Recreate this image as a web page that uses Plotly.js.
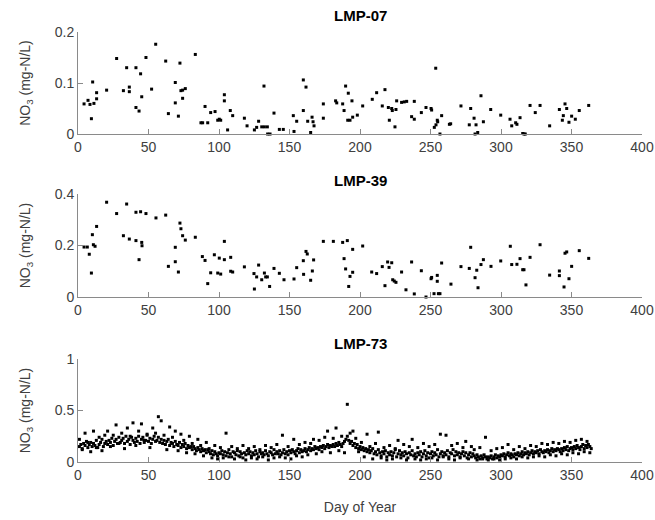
<!DOCTYPE html>
<html>
<head>
<meta charset="utf-8">
<script src="https://cdn.plot.ly/plotly-3.0.1.min.js"></script>
<style>html,body{margin:0;padding:0;background:#fff;}#chart{width:655px;height:520px;}</style>
</head>
<body>
<div id="chart"></div>
<script>
// ---- LMP-07 ----
const lmp07Day = [4.3,7.1,8.5,9.5,10.4,11.3,13.2,13.2,20.3,27.4,32.2,34.5,36.4,36.4,41.1,41.1,43.3,44.4,45.2,48.2,52.2,55.1,62.2,64.1,69.0,69.0,71.2,72.3,73.0,74.2,74.2,76.1,83.2,87.2,88.4,90.1,92.0,94.1,97.2,99.1,100.2,101.2,103.8,103.8,106.1,108.0,109.7,118.0,119.9,125.1,126.7,128.1,130.3,131.9,132.2,134.3,134.5,136.2,139.0,142.8,145.6,152.7,153.2,155.1,159.8,159.8,161.7,162.9,165.0,166.0,166.7,167.4,174.0,174.0,182.7,183.5,187.7,188.7,189.8,191.7,191.3,192.9,194.3,194.8,198.1,
201.9,208.7,211.8,215.8,217.7,220.1,220.8,222.5,222.9,224.8,225.5,226.0,229.5,231.4,233.1,236.6,238.5,238.5,243.5,246.8,250.4,250.8,253.7,252.7,253.9,254.8,255.1,256.7,257.9,263.4,264.3,271.6,277.5,278.5,280.9,282.3,281.6,283.5,285.8,287.5,292.7,299.8,306.4,307.6,310.4,311.3,313.5,315.4,316.3,317.2,320.6,324.3,327.7,334.5,341.4,344.2,345.4,346.6,343.5,348.2,350.1,352.7,355.5,362.2];
const lmp07Val = [0.059,0.066,0.058,0.030,0.102,0.060,0.081,0.069,0.086,0.148,0.085,0.130,0.092,0.083,0.130,0.052,0.045,0.118,0.073,0.150,0.088,0.176,0.143,0.040,0.101,0.061,0.035,0.139,0.085,0.070,0.086,0.089,0.156,0.022,0.022,0.054,0.022,0.042,0.044,0.027,0.029,0.027,0.077,0.065,0.008,0.046,0.036,0.031,0.016,0.008,0.013,0.025,0.014,0.094,0.014,0.014,0.0,0.0,0.041,0.009,0.009,0.036,0.005,0.025,0.106,0.046,0.092,0.025,0.003,0.033,0.024,0.016,0.059,0.031,0.065,0.061,0.059,0.046,0.094,0.080,0.027,0.027,0.065,0.033,0.037,
0.055,0.068,0.081,0.055,0.087,0.052,0.027,0.050,0.046,0.014,0.048,0.065,0.062,0.063,0.064,0.034,0.064,0.029,0.042,0.052,0.050,0.047,0.129,0.013,0.018,0.027,0.024,0.0,0.036,0.019,0.020,0.055,0.018,0.050,0.031,0.018,0.0,0.003,0.075,0.024,0.048,0.037,0.029,0.016,0.022,0.019,0.032,0.001,0.0,0.0,0.056,0.042,0.056,0.016,0.048,0.036,0.059,0.050,0.027,0.023,0.035,0.029,0.046,0.056];

// ---- LMP-39 ----
const lmp39Day = [4.3,6.6,8.0,9.5,10.2,10.9,12.1,13.2,20.3,27.4,32.2,34.5,36.4,41.1,41.1,43.3,44.4,45.2,45.4,48.2,55.3,62.2,64.1,69.0,69.0,71.2,72.3,73.0,74.2,76.1,83.2,88.2,90.1,92.0,94.1,96.7,99.1,100.2,101.2,103.8,103.8,108.3,108.3,109.7,118.0,124.8,125.1,126.7,128.1,130.3,132.2,133.1,134.3,135.9,139.0,142.8,146.1,153.2,155.1,159.8,160.0,161.7,162.6,165.0,166.2,167.1,174.0,181.1,187.7,191.0,188.7,189.8,192.0,192.9,194.8,194.8,
201.9,208.3,211.8,215.8,217.7,219.6,220.6,222.5,223.2,224.3,225.5,229.5,232.6,236.6,238.5,243.5,246.8,250.8,250.4,252.5,254.8,254.8,255.6,256.7,257.9,264.5,271.6,277.5,278.5,281.6,282.8,283.7,285.8,287.5,292.9,299.8,306.6,307.6,311.3,313.5,315.4,316.3,317.7,320.6,327.7,334.5,341.4,341.4,344.7,345.4,346.6,348.2,350.1,355.5,362.2];
const lmp39Val = [0.194,0.194,0.166,0.093,0.242,0.203,0.197,0.274,0.368,0.324,0.238,0.361,0.225,0.219,0.329,0.145,0.331,0.212,0.199,0.324,0.307,0.318,0.119,0.193,0.137,0.097,0.287,0.265,0.238,0.221,0.232,0.157,0.142,0.052,0.094,0.164,0.093,0.151,0.089,0.216,0.145,0.154,0.100,0.097,0.117,0.091,0.031,0.078,0.124,0.067,0.093,0.078,0.078,0.041,0.111,0.092,0.067,0.070,0.114,0.141,0.088,0.177,0.167,0.065,0.101,0.144,0.216,0.216,0.212,0.219,0.149,0.109,0.041,0.080,0.096,0.185,
0.198,0.097,0.091,0.118,0.044,0.136,0.115,0.133,0.067,0.062,0.057,0.097,0.028,0.136,0.012,0.102,0.0,0.076,0.071,0.013,0.084,0.061,0.013,0.013,0.132,0.050,0.118,0.111,0.193,0.075,0.104,0.036,0.126,0.145,0.119,0.140,0.197,0.126,0.127,0.149,0.106,0.106,0.047,0.154,0.203,0.085,0.101,0.083,0.039,0.170,0.175,0.071,0.119,0.180,0.150];

// ---- LMP-73 (daily samples from day 1, plus a second sample every other day) ----
const lmp73ValA = [0.15,0.17,0.13,0.18,0.16,0.20,0.14,0.17,0.19,0.15,
0.18,0.16,0.21,0.14,0.17,0.19,0.22,0.15,0.18,0.20,
0.17,0.21,0.19,0.23,0.16,0.20,0.22,0.18,0.24,0.19,
0.21,0.23,0.18,0.25,0.20,0.22,0.17,0.24,0.21,0.19,
0.23,0.20,0.25,0.18,0.22,0.24,0.19,0.21,0.26,0.20,
0.23,0.18,0.22,0.25,0.20,0.21,0.24,0.19,0.22,0.18,
0.21,0.17,0.20,0.22,0.16,0.19,0.18,0.15,0.20,0.17,
0.16,0.19,0.14,0.17,0.15,0.18,0.13,0.16,0.14,0.15,
0.12,0.15,0.13,0.11,0.14,0.12,0.10,0.13,0.11,0.12,
0.09,0.12,0.10,0.08,0.11,0.07,0.10,0.08,0.06,0.09,
0.08,0.11,0.07,0.10,0.06,0.09,0.12,0.08,0.05,0.10,
0.09,0.07,0.11,0.06,0.10,0.08,0.04,0.09,0.07,0.11,
0.08,0.10,0.06,0.09,0.07,0.11,0.08,0.05,0.10,0.08,
0.09,0.07,0.11,0.08,0.06,0.10,0.09,0.07,0.12,0.08,
0.10,0.08,0.11,0.07,0.09,0.12,0.08,0.10,0.07,0.11,
0.09,0.12,0.10,0.08,0.11,0.13,0.09,0.12,0.10,0.11,
0.13,0.10,0.12,0.14,0.11,0.13,0.12,0.15,0.13,0.14,
0.12,0.15,0.14,0.16,0.13,0.15,0.17,0.14,0.16,0.15,
0.17,0.15,0.18,0.16,0.19,0.17,0.15,0.18,0.20,0.22,
0.25,0.21,0.18,0.20,0.16,0.18,0.14,0.17,0.13,0.15,
0.12,0.14,0.11,0.13,0.10,0.12,0.09,0.11,0.13,0.08,
0.10,0.07,0.12,0.09,0.06,0.10,0.08,0.11,0.05,0.09,
0.07,0.10,0.06,0.09,0.12,0.05,0.08,0.11,0.07,0.09,
0.06,0.10,0.08,0.04,0.09,0.07,0.11,0.06,0.08,0.05,
0.09,0.07,0.10,0.05,0.08,0.11,0.06,0.09,0.04,0.08,
0.10,0.06,0.09,0.07,0.12,0.05,0.08,0.10,0.06,0.09,
0.07,0.11,0.05,0.09,0.08,0.12,0.06,0.10,0.07,0.09,
0.05,0.08,0.10,0.06,0.09,0.04,0.07,0.09,0.05,0.08,
0.06,0.04,0.07,0.05,0.03,0.06,0.04,0.07,0.05,0.03,
0.05,0.04,0.06,0.03,0.05,0.07,0.04,0.06,0.05,0.07,
0.06,0.08,0.05,0.07,0.09,0.06,0.08,0.07,0.05,0.08,
0.07,0.09,0.06,0.08,0.10,0.07,0.09,0.08,0.10,0.07,
0.09,0.11,0.08,0.10,0.09,0.11,0.08,0.12,0.10,0.09,
0.11,0.10,0.12,0.09,0.11,0.13,0.10,0.12,0.11,0.13,
0.12,0.10,0.13,0.11,0.14,0.12,0.15,0.11,0.13,0.14,
0.12,0.15,0.13,0.16,0.14,0.12,0.15,0.17,0.13,0.16,
0.14,0.17,0.15,0.13];
const lmp73ValB = [0.22,0.12,0.28,0.19,0.10,0.30,0.14,0.24,0.11,0.26,
0.30,0.15,0.26,0.36,0.18,0.28,0.13,0.33,0.25,0.38,
0.16,0.30,0.37,0.21,0.27,0.14,0.33,0.28,0.44,0.40,
0.26,0.12,0.34,0.24,0.30,0.11,0.27,0.21,0.09,0.25,
0.18,0.08,0.22,0.16,0.06,0.19,0.13,0.04,0.16,0.03,
0.14,0.04,0.28,0.05,0.15,0.03,0.13,0.05,0.16,0.02,
0.13,0.04,0.15,0.03,0.12,0.05,0.16,0.02,0.14,0.04,
0.17,0.05,0.26,0.04,0.15,0.03,0.22,0.06,0.17,0.05,
0.19,0.07,0.18,0.22,0.08,0.21,0.10,0.24,0.30,0.09,
0.23,0.33,0.11,0.25,0.09,0.56,0.28,0.30,0.23,0.10,
0.19,0.05,0.27,0.15,0.03,0.18,0.29,0.04,0.14,0.02,
0.16,0.03,0.13,0.21,0.04,0.17,0.02,0.15,0.22,0.03,
0.14,0.02,0.18,0.03,0.15,0.04,0.17,0.02,0.27,0.05,
0.26,0.03,0.16,0.02,0.18,0.04,0.14,0.20,0.03,0.15,
0.12,0.02,0.14,0.03,0.24,0.02,0.11,0.03,0.13,0.02,
0.14,0.03,0.17,0.04,0.12,0.03,0.15,0.05,0.13,0.04,
0.16,0.05,0.15,0.06,0.18,0.05,0.17,0.07,0.19,0.06,
0.18,0.08,0.20,0.07,0.19,0.09,0.21,0.08,0.22,0.10,
0.20,0.09];

const titles = ['LMP-07','LMP-39','LMP-73'];
const xTicks = [0,50,100,150,200,250,300,350,400];
const yTicks07 = [0,0.1,0.2];
const yTicks39 = [0,0.2,0.4];
const yTicks73 = [0,0.5,1];

const mk = {symbol:'square', size:3, color:'#000', line:{width:0}};
const traces = [
  {x:lmp07Day, y:lmp07Val, type:'scatter', mode:'markers', marker:mk, xaxis:'x', yaxis:'y', cliponaxis:false},
  {x:lmp39Day, y:lmp39Val, type:'scatter', mode:'markers', marker:mk, xaxis:'x2', yaxis:'y2', cliponaxis:false},
  {x0:1, dx:1, y:lmp73ValA, type:'scatter', mode:'markers', marker:mk, xaxis:'x3', yaxis:'y3', cliponaxis:false},
  {x0:1, dx:2, y:lmp73ValB, type:'scatter', mode:'markers', marker:mk, xaxis:'x3', yaxis:'y3', cliponaxis:false}
];

const FF = 'Liberation Sans, Arial, sans-serif';
const lineCol = '#8a8a8a';
const txtCol = '#404040';
const fnt = {family:FF, size:14, color:txtCol};
function xax(anchor){
  return {anchor:anchor, range:[0,400], tickvals:xTicks, ticktext:xTicks.map(String),
    showline:true, linecolor:lineCol, linewidth:1, ticks:'inside', ticklen:5, tickcolor:lineCol,
    showgrid:false, zeroline:false, tickfont:fnt, fixedrange:true};
}
function yax(anchor, dom, rng, tv){
  return {anchor:anchor, domain:dom, range:rng, tickvals:tv, ticktext:tv.map(String),
    showline:true, linecolor:lineCol, linewidth:1, ticks:'inside', ticklen:5, tickcolor:lineCol,
    showgrid:false, zeroline:false, tickfont:fnt, fixedrange:true,
    title:{text:'NO<sub>3</sub> (mg-N/L)', font:{family:FF, size:14, color:txtCol}, standoff:20}};
}
const layout = {
  width:655, height:520, showlegend:false,
  paper_bgcolor:'#fff', plot_bgcolor:'#fff',
  margin:{l:78, r:13, t:32, b:58},
  xaxis: xax('y'), xaxis2: xax('y2'),
  xaxis3: Object.assign(xax('y3'), {title:{text:'Day of Year', font:{family:FF, size:14, color:txtCol}, standoff:20}}),
  yaxis: yax('x', [0.7628,1], [0,0.2], yTicks07),
  yaxis2: yax('x2', [0.3837,0.6233], [0,0.4], yTicks39),
  yaxis3: yax('x3', [0,0.2395], [0,1], yTicks73),
  annotations: [
    {text:'<b>'+titles[0]+'</b>', xref:'paper', yref:'paper', x:0.5, y:1.0395, xanchor:'center', yanchor:'middle', showarrow:false, font:{family:FF, size:15, color:'#000'}},
    {text:'<b>'+titles[1]+'</b>', xref:'paper', yref:'paper', x:0.5, y:0.6558, xanchor:'center', yanchor:'middle', showarrow:false, font:{family:FF, size:15, color:'#000'}},
    {text:'<b>'+titles[2]+'</b>', xref:'paper', yref:'paper', x:0.5, y:0.2767, xanchor:'center', yanchor:'middle', showarrow:false, font:{family:FF, size:15, color:'#000'}}
  ]
};
Plotly.newPlot('chart', traces, layout, {staticPlot:true, displayModeBar:false});
</script>
</body>
</html>
